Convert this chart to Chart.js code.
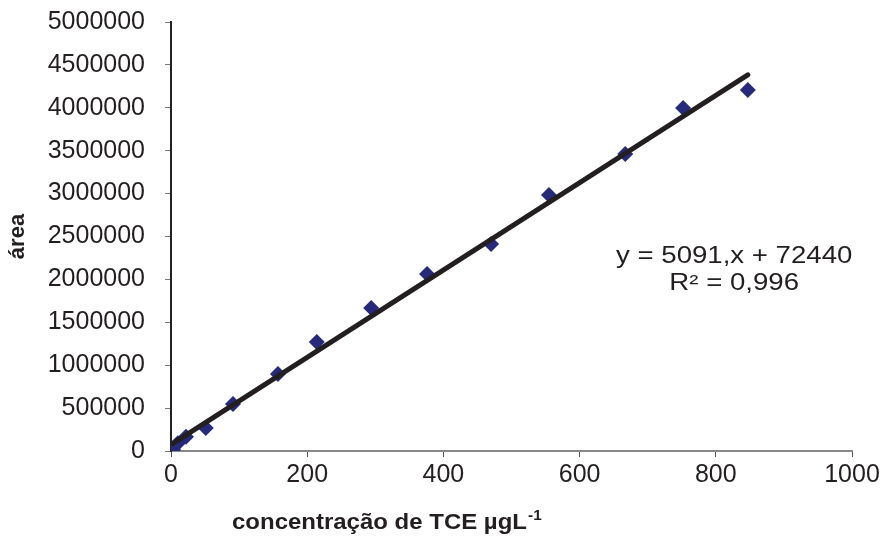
<!DOCTYPE html>
<html>
<head>
<meta charset="utf-8">
<script src="https://cdn.jsdelivr.net/npm/chart.js@4"></script>
<style>
  html, body { margin: 0; padding: 0; background: #fff; }
  #wrap { width: 885px; height: 537px; }
</style>
</head>
<body>
<div id="wrap"><canvas id="calChart" width="885" height="537"></canvas></div>
<script>
// calibration points
const concTCE = [3, 10, 22, 51, 91, 157, 214, 294, 376, 470, 555, 667, 752, 847];
const areaValues = [15000, 90000, 165000, 268000, 548000, 897000, 1270000, 1667000, 2063000, 2413000, 2984000, 3462000, 3998000, 4207000];

// trendline equation as printed on the chart
const slope = 5091;
const intercept = 72440;
const eqLines = ['y = 5091,x + 72440', 'R\u00b2 = 0,996'];

const xTitle = 'concentra\u00e7\u00e3o de TCE \u00b5gL';
const xTitleSup = '-1';
const yTitle = '\u00e1rea';

const xMin = Math.min(...concTCE);
const xMax = Math.max(...concTCE);
const trend = [
  { x: xMin, y: slope * xMin + intercept },
  { x: xMax, y: slope * xMax + intercept }
];

const font = 'Liberation Sans, Arial, sans-serif';

// equation box and x axis title (with superscript), text is a bit wide in the original
const extraText = {
  id: 'extraText',
  afterDraw(chart) {
    const ctx = chart.ctx;
    const area = chart.chartArea;
    ctx.save();
    ctx.fillStyle = '#231f20';
    ctx.textBaseline = 'middle';

    // equation
    ctx.font = '23px ' + font;
    ctx.textAlign = 'center';
    const cx = area.left + (area.right - area.left) * 0.827;
    const cy = area.top + (area.bottom - area.top) * 0.547;
    ctx.save();
    ctx.translate(cx, cy);
    ctx.scale(1.2, 1);
    ctx.fillText(eqLines[0], 0, 0);
    ctx.fillText(eqLines[1], 0, 27);
    ctx.restore();

    // x title
    ctx.save();
    ctx.textAlign = 'left';
    ctx.translate(232, 523);
    ctx.scale(1.09, 1);
    ctx.font = 'bold 22px ' + font;
    ctx.fillText(xTitle, 0, 0);
    const w = ctx.measureText(xTitle).width;
    ctx.font = 'bold 14px ' + font;
    ctx.fillText(xTitleSup, w + 1, -7);
    ctx.restore();

    ctx.restore();
  }
};

const calChart = new Chart(document.getElementById('calChart'), {
  type: 'scatter',
  data: {
    datasets: [{
      type: 'line',
      label: 'trend',
      data: trend,
      borderColor: '#231f20',
      borderWidth: 5,
      pointRadius: 0,
      borderCapStyle: 'round',
      order: 0
    }, {
      label: 'área',
      data: concTCE.map((x, i) => ({ x: x, y: areaValues[i] })),
      pointStyle: 'rectRot',
      pointRadius: 8,
      backgroundColor: '#262a7a',
      borderColor: '#262a7a',
      borderWidth: 0,
      order: 1
    }]
  },
  plugins: [extraText],
  options: {
    responsive: false,
    animation: false,
    layout: { padding: { top: 22, right: 33, left: 0, bottom: 0 } },
    plugins: {
      legend: { display: false },
      tooltip: { enabled: false }
    },
    scales: {
      x: {
        type: 'linear',
        min: 0,
        max: 1000,
        afterFit(s) { s.height = 86; s.paddingLeft = 0; s.paddingRight = 0; },
        ticks: {
          stepSize: 200,
          color: '#231f20',
          font: { family: font, size: 25 },
          padding: 3,
          maxRotation: 0,
          callback: v => String(v)
        },
        grid: { drawOnChartArea: false, drawTicks: true, tickLength: 6, color: '#555' },
        border: { color: '#888', width: 2 }
      },
      y: {
        min: 0,
        max: 5000000,
        afterFit(s) { s.width = 171; s.paddingTop = 0; s.paddingBottom = 0; },
        ticks: {
          stepSize: 500000,
          color: '#231f20',
          font: { family: font, size: 25 },
          padding: 20,
          callback: v => String(v)
        },
        grid: { drawOnChartArea: false, drawTicks: true, tickLength: 6, color: '#777' },
        border: { color: '#222', width: 2 },
        title: {
          display: true,
          text: yTitle,
          color: '#231f20',
          font: { family: font, size: 22, weight: 'bold' },
          padding: { top: 5, bottom: 0 }
        }
      }
    }
  }
});
</script>
</body>
</html>
